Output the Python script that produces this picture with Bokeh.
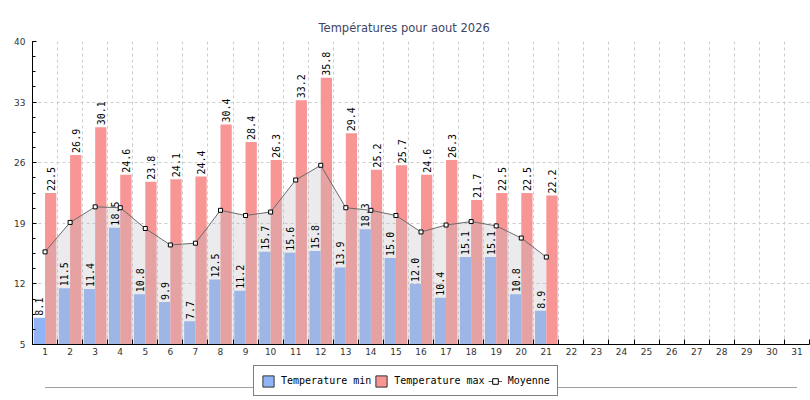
import math
from bokeh.plotting import figure
from bokeh.models import (Range1d, FixedTicker, ColumnDataSource, Legend, LegendItem)
from bokeh.transform import dodge
from bokeh.layouts import column
from bokeh.core.properties import value
from bokeh.embed import file_html
from bokeh.resources import INLINE

# ---------------- data ----------------
days = list(range(1, 32))
day_labels = [str(d) for d in days]
t_min = [8.1, 11.5, 11.4, 18.5, 10.8, 9.9, 7.7, 12.5, 11.2, 15.7, 15.6,
         15.8, 13.9, 18.3, 15.0, 12.0, 10.4, 15.1, 15.1, 10.8, 8.9]
t_max = [22.5, 26.9, 30.1, 24.6, 23.8, 24.1, 24.4, 30.4, 28.4, 26.3, 33.2,
         35.8, 29.4, 25.2, 25.7, 24.6, 26.3, 21.7, 22.5, 22.5, 22.2]
moyenne = [15.7, 19.1, 20.9, 20.8, 18.4, 16.5, 16.7, 20.5, 19.9, 20.3, 24.0,
           25.7, 20.8, 20.5, 19.9, 18.0, 18.8, 19.2, 18.7, 17.3, 15.1]
y_ticks = [5, 12, 19, 26, 33, 40]
series_names = ["Temperature min", "Temperature max", "Moyenne"]
title_text = "Températures pour aout 2026"

# ---------------- styles ----------------
BLUE = "#90b4f5"
RED = "#f89696"
MONO = "DejaVu Sans Mono"
SANS = "DejaVu Sans"

n = len(t_min)
src = ColumnDataSource(dict(
    day=days[:n], tmin=t_min, tmax=t_max, moy=moyenne,
    tmin_lbl=[f"{v:.1f}" for v in t_min],
    tmax_lbl=[f"{v:.1f}" for v in t_max],
))

xr = Range1d(days[0] - 0.5, days[-1] + 0.5)
yr = Range1d(y_ticks[0], y_ticks[-1])

p = figure(width=810, height=364, x_range=xr, y_range=yr,
           output_backend="svg", toolbar_location=None,
           min_border_left=32, min_border_right=1,
           min_border_top=41, min_border_bottom=20)
p.outline_line_color = None
p.background_fill_color = "white"
p.border_fill_color = "white"

# title
p.title.text = title_text
p.title.align = "left"
p.title.offset = 286
p.title.text_font = SANS
p.title.text_font_size = "11.5px"
p.title.text_font_style = "normal"
p.title.text_color = "#3c4665"
p.title.standoff = 13

# x axis: labels at centers, ticks at boundaries
boundaries = [d - 0.5 for d in days] + [days[-1] + 0.5]
xax = p.xaxis[0]
xax.ticker = FixedTicker(ticks=days, minor_ticks=boundaries)
xax.major_label_overrides = {d: l for d, l in zip(days, day_labels)}
xax.major_tick_in = 0
xax.major_tick_out = 0
xax.minor_tick_in = 5
xax.minor_tick_out = 0
xax.major_label_standoff = 3
xax.major_label_text_font = SANS
xax.major_label_text_font_size = "9px"
xax.major_label_text_color = "#333333"
xax.axis_line_color = "black"
xax.minor_tick_line_color = "black"

# y axis
step = (y_ticks[1] - y_ticks[0]) / 4
y_minor = [y_ticks[0] + i * step for i in range(int((y_ticks[-1] - y_ticks[0]) / step) + 1)]
yax = p.yaxis[0]
yax.ticker = FixedTicker(ticks=y_ticks, minor_ticks=y_minor)
yax.major_tick_in = 4
yax.major_tick_out = 0
yax.minor_tick_in = 3
yax.minor_tick_out = 0
yax.major_label_standoff = 7
yax.major_label_text_font = SANS
yax.major_label_text_font_size = "9px"
yax.major_label_text_color = "#333333"
yax.axis_line_color = "black"

# grids
p.xgrid.ticker = FixedTicker(ticks=boundaries)
for g in (p.xgrid[0], p.ygrid[0]):
    g.grid_line_color = "#cccccc"
    g.grid_line_dash = "3 3"
    g.grid_line_width = 1

# bars
p.vbar(x=dodge("day", -0.225), top="tmin", bottom=y_ticks[0], width=0.45,
       fill_color=BLUE, line_color=None, source=src)
p.vbar(x=dodge("day", 0.225), top="tmax", bottom=y_ticks[0], width=0.45,
       fill_color=RED, line_color=None, source=src)

# mean area + line
p.varea(x="day", y1=y_ticks[0], y2="moy", fill_color="#bebec3",
        fill_alpha=0.3, source=src)
p.line(x="day", y="moy", line_color="#6a6a6a", line_width=1, source=src)

# value labels
for xo, col, lbl in ((-0.225, "tmin", "tmin_lbl"), (0.225, "tmax", "tmax_lbl")):
    p.text(x=dodge("day", xo), y=col, text=lbl, angle=math.pi / 2,
           text_align="left", text_baseline="middle", y_offset=-2,
           text_font=value(MONO), text_font_size=value("10px"),
           text_color="black", source=src)

p.scatter(x="day", y="moy", marker="square", size=4, fill_color="white",
          line_color="black", line_width=1, source=src)

# ---------------- legend strip ----------------
p2 = figure(width=810, height=36, x_range=xr, y_range=Range1d(0, 36),
            output_backend="svg", toolbar_location=None,
            x_axis_location=None, y_axis_location=None,
            min_border_left=32, min_border_right=1,
            min_border_top=0, min_border_bottom=0)
p2.grid.visible = False
p2.outline_line_color = None
p2.background_fill_color = "white"
p2.border_fill_color = "white"
p2.segment(x0=[days[0]], y0=[13], x1=[days[-1]], y1=[13],
           line_color="#a0a0a0", line_width=1)

# legend-only renderers: one point placed outside the visible range
off = [xr.start - 10]
r_min = p2.vbar(x=off, top=[0], width=0.5, fill_color=BLUE, line_color="#333333")
r_max = p2.vbar(x=off, top=[0], width=0.5, fill_color=RED, line_color="#333333")
r_line = p2.line(x=off, y=[0], line_color="#555555", line_width=1)
r_pt = p2.scatter(x=off, y=[0], marker="square", size=4, fill_color="white",
                  line_color="black", line_width=1)

legend = Legend(items=[
    LegendItem(label=series_names[0], renderers=[r_min]),
    LegendItem(label=series_names[1], renderers=[r_max]),
    LegendItem(label=series_names[2], renderers=[r_line, r_pt]),
], orientation="horizontal", location=(221, 4))
legend.border_line_color = "black"
legend.border_line_width = 1
legend.background_fill_color = "white"
legend.background_fill_alpha = 1
legend.label_text_font = MONO
legend.label_text_font_size = "10px"
legend.label_text_color = "black"
legend.glyph_width = 14
legend.glyph_height = 14
legend.label_height = 15
legend.label_standoff = 6
legend.spacing = 3
legend.padding = 7
legend.margin = 0
p2.add_layout(legend)

layout = column(p, p2, spacing=0)
open("out.html", "w").write(file_html(layout, INLINE))
